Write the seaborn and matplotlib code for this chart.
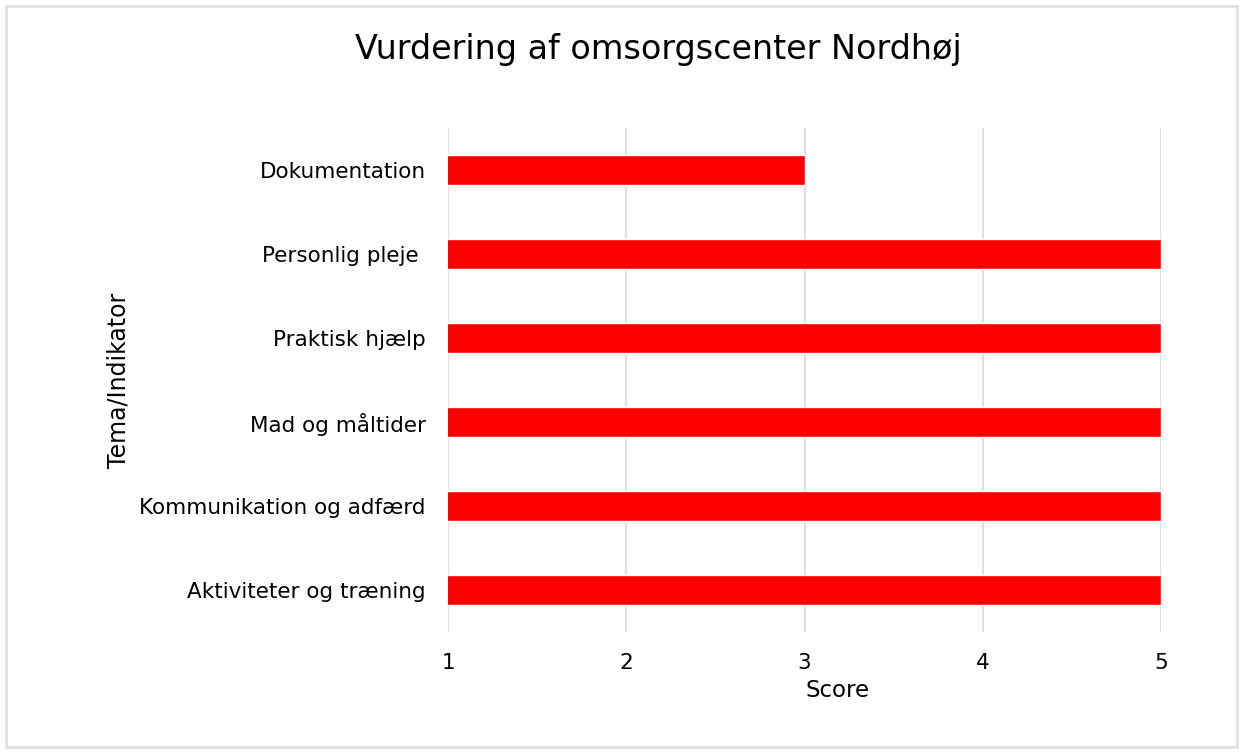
import matplotlib
matplotlib.use("Agg")
import matplotlib.pyplot as plt
import seaborn as sns
import pandas as pd
from matplotlib.patches import Rectangle

categories = ["Dokumentation", "Personlig pleje ", "Praktisk hjælp", "Mad og måltider",
              "Kommunikation og adfærd", "Aktiviteter og træning"]
scores = [3, 5, 5, 5, 5, 5]
x_ticks = [1, 2, 3, 4, 5]

df = pd.DataFrame({"Tema/Indikator": categories, "Score": scores})

sns.set_theme(style="white")
plt.rcParams['font.family'] = ['DejaVu Sans']

fig = plt.figure(figsize=(12.43, 7.53), dpi=100)
ax = fig.add_axes([448/1243, 1-632/753, (1161-448)/1243, (632-128)/753])

sns.barplot(data=df, x="Score", y="Tema/Indikator", color="#FF0000", saturation=1,
            width=0.36, orient="h", ax=ax, zorder=3)

ax.set_xlim(1, 5)
ax.set_ylim(5.5, -0.5)
ax.set_xticks(x_ticks)
ax.xaxis.grid(True, color="#e0e0e0", linewidth=1.5, zorder=0)
ax.set_axisbelow(True)
for s in ax.spines.values():
    s.set_visible(False)
ax.tick_params(axis="y", length=0, labelsize=15.5, labelcolor="black", pad=16)
ax.tick_params(axis="x", length=0, labelsize=15.5, labelcolor="black", pad=15)
ax.set_xlabel("Score", fontsize=16.5, color="black")
ax.xaxis.set_label_coords((838-448)/(1161-448), (632-679)/(632-128))
ax.set_ylabel("Tema/Indikator", fontsize=17, color="black")
ax.yaxis.set_label_coords((131-448)/(1161-448), 0.5)

fig.text(658/1243, 1-50/753, "Vurdering af omsorgscenter Nordhøj", fontsize=24,
         ha="center", va="center", color="black")

fig.patches.append(Rectangle((6/1243, 6/753), 1231/1243, 741/753, transform=fig.transFigure,
                             fill=False, edgecolor="#e0e0e0", linewidth=2))

fig.savefig("out.png", dpi=100)
